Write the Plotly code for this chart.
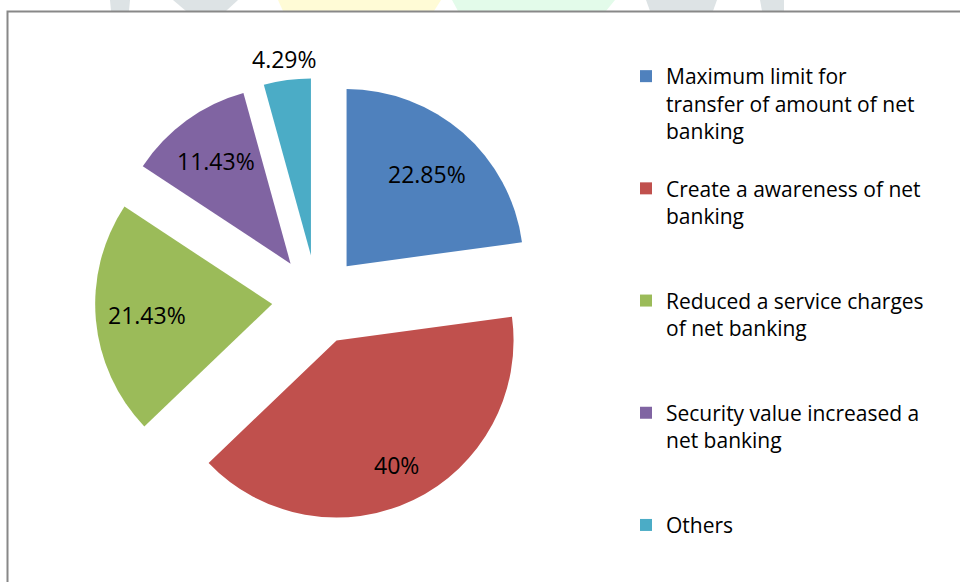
import math
import plotly.graph_objects as go

# Suggestions for net banking (share of respondents, %)
categories = [
    "Maximum limit for<br>transfer of amount of net<br>banking",
    "Create a awareness of net<br>banking",
    "Reduced a service charges<br>of net banking",
    "Security value increased a<br>net banking",
    "Others",
]
shares = [22.85, 40, 21.43, 11.43, 4.29]
slice_colors = ["#4F81BD", "#C0504D", "#9BBB59", "#8064A2", "#4BACC6"]

W, H = 960, 582
FONT = "Open Sans"


def px(x):
    return x / W


def py(y):
    return 1 - y / H


# pie placement (pixels) and explosion
dom_x = (95, 539)
dom_y = (78, 522)          # top, bottom
pull = 0.254
# radial position of each value label, as a fraction of the radius
label_radius = [0.69, 0.78, 0.71, 0.72, 1.12]

# pad legend entries (all but the last) so each occupies the same height
slot_lines = 4
legend_labels = []
for i, c in enumerate(categories):
    n = c.count("<br>") + 1
    pad = 0 if i == len(categories) - 1 else slot_lines - n
    legend_labels.append(c + "<br>\u00a0" * pad)

fig = go.Figure(
    go.Pie(
        labels=legend_labels,
        values=shares,
        sort=False,
        direction="clockwise",
        rotation=0,
        pull=[pull] * len(shares),
        marker=dict(colors=slice_colors, line=dict(width=0)),
        textinfo="none",
        domain=dict(x=[px(dom_x[0]), px(dom_x[1])],
                    y=[py(dom_y[1]), py(dom_y[0])]),
        hoverinfo="label+percent",
    )
)

# value labels, placed along each slice's mid-angle
cx = (dom_x[0] + dom_x[1]) / 2
cy = (dom_y[0] + dom_y[1]) / 2
size = min(dom_x[1] - dom_x[0], dom_y[1] - dom_y[0])
radius = size / (2 + 2 * pull)
total = sum(shares)
start = 0.0
annotations = []
for v, frac in zip(shares, label_radius):
    mid = math.radians((start + v / 2) / total * 360)
    start += v
    ux, uy = math.sin(mid), -math.cos(mid)
    dist = pull * radius + frac * radius
    annotations.append(dict(
        x=px(cx + ux * dist), y=py(cy + uy * dist),
        xref="paper", yref="paper", showarrow=False,
        text=f"{v:g}%", xanchor="center", yanchor="middle",
        font=dict(family=FONT, size=23, color="#000000"),
    ))

# faint background artwork peeking above the chart frame
bg_shapes = [
    ("#DDE3E5", [(110, 0), (130, 0), (129, 11), (111, 11)]),
    ("#DDE3E5", [(173, 0), (238, 0), (226, 11), (186, 11)]),
    ("#FFFBD6", [(278, 0), (441, 0), (434, 11), (283, 11)]),
    ("#E3FBEA", [(452, 0), (615, 0), (606, 11), (458, 11)]),
    ("#DDE3E5", [(646, 0), (717, 0), (713, 11), (650, 11)]),
    ("#DDE3E5", [(760, 0), (784, 0), (784, 11), (762, 11)]),
]
shapes = []
for color, pts in bg_shapes:
    path = "M " + " L ".join(f"{px(x)},{py(y)}" for x, y in pts) + " Z"
    shapes.append(dict(type="path", xref="paper", yref="paper", path=path,
                       fillcolor=color, line=dict(width=0), layer="below"))

# chart frame (left and top edges)
shapes.append(dict(
    type="path", xref="paper", yref="paper",
    path=f"M {px(7.5)},0 L {px(7.5)},{py(11.5)} L 1,{py(11.5)}",
    line=dict(color="#888888", width=2),
))

fig.update_layout(
    width=W,
    height=H,
    margin=dict(l=0, r=0, t=0, b=0, pad=0, autoexpand=False),
    paper_bgcolor="#FFFFFF",
    plot_bgcolor="#FFFFFF",
    shapes=shapes,
    annotations=annotations,
    showlegend=True,
    legend=dict(
        x=px(626), y=py(56), xanchor="left", yanchor="top",
        font=dict(family=FONT, size=21, color="#000000"),
        valign="top",
        itemwidth=30,
        bgcolor="rgba(0,0,0,0)",
        itemclick=False,
        itemdoubleclick=False,
    ),
)

fig.write_html("out.html")
